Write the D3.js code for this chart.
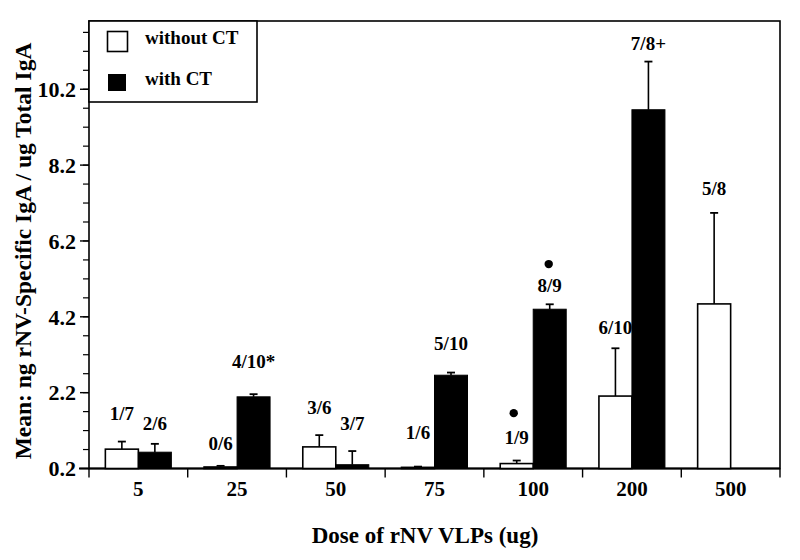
<!DOCTYPE html>
<html><head><meta charset="utf-8">
<script src="https://cdn.jsdelivr.net/npm/d3@7"></script>
<style>
html,body{margin:0;padding:0;background:#fff;}
text{font-family:"Liberation Serif","Times New Roman",serif;font-weight:bold;fill:#000;}
</style></head>
<body><svg id="c" width="800" height="560"></svg>
<script>
const categories = ["5","25","50","75","100","200","500"];
const withoutCT    = [0.71, 0.24, 0.77, 0.23, 0.33, 2.11, 4.54];
const withoutCTErr = [0.20, 0.03, 0.31, 0.02, 0.08, 1.26, 2.40];
const withCT       = [0.63, 2.09, 0.30, 2.66, 4.40, 9.66, null];
const withCTErr    = [0.22, 0.07, 0.36, 0.07, 0.13, 1.27, null];
const labelsWithout   = ["1/7","0/6","3/6","1/6","1/9","6/10","5/8"];
const labelsWithoutAt = [1.66, 0.85, 1.82, 1.16, 1.03, 3.93, 7.60];
const labelsWith      = ["2/6","4/10*","3/7","5/10","8/9","7/8+",null];
const labelsWithAt    = [1.40, 3.03, 1.40, 3.51, 5.04, 11.42, null];
const dotsWithout = [null,null,null,null,1.66,null,null];
const dotsWith    = [null,null,null,null,5.59,null,null];
const yTicksMajor = [0.2, 2.2, 4.2, 6.2, 8.2, 10.2];
const yTicksMinor = d3.range(0.7, 11.8, 0.5).map(v => +v.toFixed(1));
const legendItems = ["without CT","with CT"];

const svg = d3.select("#c");
const L = 89, R = 780, T = 21, B = 468.5;
const x = d3.scaleBand().domain(categories).range([L, R]).padding(0);
const y = d3.scaleLinear().domain([0.2, 12.0]).range([B, T]);
const bw = 33;

// frame
svg.append("rect").attr("x", L).attr("y", T).attr("width", R - L).attr("height", B - T)
  .attr("fill", "none").attr("stroke", "#000").attr("stroke-width", 1.6);

// y axis ticks
const ya = svg.append("g");
ya.selectAll("line.mi").data(yTicksMinor).join("line")
  .attr("x1", L - 6).attr("x2", L).attr("y1", d => y(d)).attr("y2", d => y(d))
  .attr("stroke", "#000").attr("stroke-width", 1.2);
ya.selectAll("line.ma").data(yTicksMajor).join("line")
  .attr("x1", L - 9).attr("x2", L).attr("y1", d => y(d)).attr("y2", d => y(d))
  .attr("stroke", "#000").attr("stroke-width", 1.4);
ya.selectAll("text").data(yTicksMajor).join("text")
  .attr("x", L - 13).attr("y", d => y(d)).attr("dy", "0.35em")
  .attr("text-anchor", "end").attr("font-size", 22).text(d => d.toFixed(1));

// x axis line extending left + ticks
svg.append("line").attr("x1", L - 10).attr("x2", R).attr("y1", B).attr("y2", B)
  .attr("stroke", "#000").attr("stroke-width", 1.8);
const xb = categories.map(c => x(c)).concat([R]);
svg.selectAll("line.xt").data(xb).join("line")
  .attr("x1", d => d).attr("x2", d => d).attr("y1", B).attr("y2", B + 9)
  .attr("stroke", "#000").attr("stroke-width", 1.4);
svg.selectAll("text.xl").data(categories).join("text")
  .attr("x", d => x(d) + x.bandwidth() / 2).attr("y", B + 27)
  .attr("text-anchor", "middle").attr("font-size", 21).text(d => d);

// bars
const g = svg.append("g");
function errBar(cx, v, e) {
  if (v == null || e == null) return;
  g.append("line").attr("x1", cx).attr("x2", cx).attr("y1", y(v)).attr("y2", y(v + e))
    .attr("stroke", "#000").attr("stroke-width", 1.6);
  g.append("line").attr("x1", cx - 4).attr("x2", cx + 4).attr("y1", y(v + e)).attr("y2", y(v + e))
    .attr("stroke", "#000").attr("stroke-width", 1.8);
}
categories.forEach((c, i) => {
  const cx = x(c) + x.bandwidth() / 2;
  const wx = cx - bw, bx = cx;
  if (withoutCT[i] != null) {
    errBar(wx + bw / 2, withoutCT[i], withoutCTErr[i]);
    g.append("rect").attr("x", wx).attr("y", y(withoutCT[i])).attr("width", bw)
      .attr("height", y(0.2) - y(withoutCT[i])).attr("fill", "#fff")
      .attr("stroke", "#000").attr("stroke-width", 1.6);
  }
  if (withCT[i] != null) {
    errBar(bx + bw / 2, withCT[i], withCTErr[i]);
    g.append("rect").attr("x", bx).attr("y", y(withCT[i])).attr("width", bw)
      .attr("height", y(0.2) - y(withCT[i])).attr("fill", "#000")
      .attr("stroke", "#000").attr("stroke-width", 1);
  }
  if (labelsWithout[i]) {
    svg.append("text").attr("x", wx + bw / 2).attr("y", y(labelsWithoutAt[i])).attr("dy", "0.35em")
      .attr("text-anchor", "middle").attr("font-size", 19).text(labelsWithout[i]);
  }
  if (labelsWith[i]) {
    svg.append("text").attr("x", bx + bw / 2).attr("y", y(labelsWithAt[i])).attr("dy", "0.35em")
      .attr("text-anchor", "middle").attr("font-size", 19).text(labelsWith[i]);
  }
  if (dotsWithout[i] != null) {
    svg.append("circle").attr("cx", wx + bw / 2 - 3).attr("cy", y(dotsWithout[i])).attr("r", 4.2).attr("fill", "#000");
  }
  if (dotsWith[i] != null) {
    svg.append("circle").attr("cx", bx + bw / 2 - 1).attr("cy", y(dotsWith[i])).attr("r", 4.2).attr("fill", "#000");
  }
});

// legend
const lg = svg.append("g");
lg.append("rect").attr("x", L).attr("y", T).attr("width", 168).attr("height", 81)
  .attr("fill", "#fff").attr("stroke", "#000").attr("stroke-width", 1.6);
lg.append("rect").attr("x", 107.5).attr("y", 31.5).attr("width", 20).attr("height", 20)
  .attr("fill", "#fff").attr("stroke", "#000").attr("stroke-width", 1.6);
lg.append("rect").attr("x", 108).attr("y", 74).attr("width", 18).attr("height", 17).attr("fill", "#000");
lg.selectAll("text").data(legendItems).join("text")
  .attr("x", 145).attr("y", (d, i) => i === 0 ? 37 : 78).attr("dy", "0.35em")
  .attr("font-size", 19).text(d => d);

// axis titles
svg.append("text").attr("transform", "translate(31,251) rotate(-90)")
  .attr("text-anchor", "middle").attr("font-size", 23.5)
  .text("Mean: ng rNV-Specific IgA / ug Total IgA");
svg.append("text").attr("x", 425).attr("y", 543)
  .attr("text-anchor", "middle").attr("font-size", 23)
  .text("Dose of rNV VLPs (ug)");
</script></body></html>
